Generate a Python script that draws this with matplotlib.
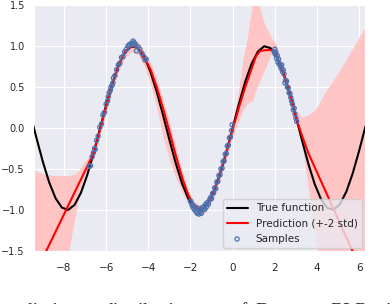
import matplotlib
matplotlib.use("Agg")
import matplotlib.pyplot as plt
import seaborn as sns

# true function
true_x = [-9.6, -9.3, -9.0, -8.7, -8.4, -8.1, -7.8, -7.5, -7.2, -6.9, -6.6, -6.3,
          -6.0, -5.7, -5.4, -5.1, -4.8, -4.5, -4.2, -3.9, -3.6, -3.3, -3.0, -2.7,
          -2.4, -2.1, -1.8, -1.5, -1.2, -0.9, -0.6, -0.3, 0.0, 0.3, 0.6, 0.9,
          1.2, 1.5, 1.8, 2.1, 2.4, 2.7, 3.0, 3.3, 3.6, 3.9, 4.2, 4.5,
          4.8, 5.1, 5.4, 5.7, 6.0, 6.3]
true_y = [0.174, -0.124, -0.412, -0.663, -0.855, -0.970, -0.999, -0.938, -0.794, -0.578, -0.312, -0.017,
          0.279, 0.551, 0.773, 0.926, 0.996, 0.978, 0.872, 0.688, 0.443, 0.158, -0.141, -0.427,
          -0.675, -0.863, -0.974, -0.997, -0.932, -0.783, -0.565, -0.296, 0.0, 0.296, 0.565, 0.783,
          0.932, 0.997, 0.974, 0.863, 0.675, 0.427, 0.141, -0.158, -0.443, -0.688, -0.872, -0.978,
          -0.996, -0.926, -0.773, -0.551, -0.279, 0.017]

# prediction mean (red)
pred_x = [-9.5, -6.9, -6.6, -6.3, -6.0, -5.7, -5.4, -5.1, -4.8, -4.5, -4.2, -3.9,
          -3.6, -3.3, -3.0, -2.7, -2.4, -2.1, -1.8, -1.5, -1.2, -0.9, -0.6, -0.3,
          0.0, 0.3, 0.6, 0.9, 1.1, 1.3, 1.6, 1.9, 2.1, 2.4, 2.7, 3.0, 3.3, 3.6, 6.3]
pred_y = [-1.85, -0.47, -0.31, -0.03, 0.26, 0.54, 0.77, 0.93, 1.0, 0.98, 0.86, 0.72,
          0.5, 0.24, -0.04, -0.33, -0.6, -0.82, -0.96, -1.0, -0.93, -0.78, -0.56, -0.3,
          -0.02, 0.25, 0.5, 0.72, 0.87, 0.94, 0.95, 0.95, 0.88, 0.68, 0.43, 0.13, -0.1, -0.31, -1.85]

# +-2 std band
band_x = [-9.5, -9.0, -8.5, -8.0, -7.8, -7.6, -7.4, -7.2, -7.0, -6.9, -6.6, -6.3,
          -6.0, -5.7, -5.4, -5.1, -4.8, -4.5, -4.2, -3.9, -3.6, -3.3, -3.0, -2.7,
          -2.4, -2.1, -1.8, -1.5, -1.2, -0.9, -0.6, -0.3, 0.0, 0.25, 0.5, 0.7,
          0.95, 1.1, 1.25, 1.5, 1.85, 2.1, 2.4, 2.7, 3.0, 3.3, 3.6, 3.9,
          4.05, 4.4, 5.2, 6.3]
band_hi = [-0.50, -0.56, -0.58, -0.58, -0.58, -0.57, -0.55, -0.48, -0.40, -0.38, -0.22, 0.04,
           0.33, 0.60, 0.83, 1.00, 1.08, 1.06, 0.93, 0.80, 0.60, 0.35, 0.08, -0.22,
           -0.52, -0.76, -0.90, -0.95, -0.88, -0.72, -0.50, -0.24, 0.04, 0.40, 0.85, 1.10,
           1.55, 1.60, 1.50, 1.28, 1.10, 1.00, 0.74, 0.50, 0.22, 0.13, 0.16, 0.22,
           0.28, 0.44, 0.75, 1.24]
band_lo = [-1.70, -1.70, -1.70, -1.70, -1.55, -1.25, -0.98, -0.72, -0.55, -0.52, -0.38, -0.10,
           0.19, 0.47, 0.70, 0.86, 0.93, 0.90, 0.76, 0.55, 0.25, -0.10, -0.38, -0.60,
           -0.78, -0.93, -1.04, -1.07, -1.00, -0.85, -0.63, -0.37, -0.10, 0.06, 0.22, 0.30,
           0.34, 0.45, 0.55, 0.70, 0.91, 0.84, 0.62, 0.36, 0.06, -0.20, -0.75, -1.30,
           -1.55, -1.70, -1.70, -1.70]

# training samples
samp_x = [-6.8, -6.74, -6.66, -6.6, -6.55, -6.52, -6.45, -6.38, -6.3, -6.22, -6.15, -6.08,
          -6.0, -5.93, -5.9, -5.86, -5.8, -5.77, -5.72, -5.68, -5.65, -5.58, -5.5, -5.42,
          -5.35, -5.27, -5.2, -5.12, -5.04, -4.96, -4.92, -4.88, -4.8, -4.76, -4.72, -4.68,
          -4.64, -4.6, -4.56, -4.48, -4.4, -4.3, -4.22, -4.15, -4.1,
          -2.0, -1.96, -1.92, -1.88, -1.84, -1.8, -1.76, -1.72, -1.68, -1.64, -1.6, -1.56,
          -1.52, -1.48, -1.44, -1.4, -1.36, -1.32, -1.28, -1.24, -1.2, -1.15, -1.1, -1.05,
          -1.0, -0.95, -0.9, -0.85, -0.8, -0.75, -0.7, -0.65, -0.6, -0.55, -0.5, -0.45,
          -0.4, -0.35, -0.3, -0.25, -0.2, -0.15, -0.1, -0.05, -0.02,
          1.98, 2.0, 2.02, 2.05, 2.08, 2.12, 2.15, 2.18, 2.22, 2.26, 2.3, 2.33,
          2.36, 2.4, 2.44, 2.48, 2.52, 2.56, 2.6, 2.64, 2.68, 2.72, 2.76, 2.8,
          2.84, 2.88, 2.92, 2.96, 3.0, 3.04]
samp_y = [-0.47, -0.46, -0.35, -0.30, -0.25, -0.26, -0.15, -0.10, 0.01, 0.05, 0.16, 0.19,
          0.29, 0.33, 0.38, 0.43, 0.46, 0.50, 0.52, 0.55, 0.61, 0.64, 0.71, 0.77,
          0.79, 0.86, 0.87, 0.93, 0.96, 1.00, 1.01, 1.02, 1.03, 1.02, 1.06, 1.04,
          1.03, 1.01, 0.94, 0.99, 0.96, 0.91, 0.87, 0.83, 0.84,
          -0.89, -0.91, -0.94, -0.97, -0.95, -1.00, -0.97, -1.02, -1.04, -0.98, -1.05, -1.03,
          -1.00, -1.04, -0.97, -1.00, -0.96, -0.99, -0.93, -0.96, -0.91, -0.93, -0.88, -0.85,
          -0.86, -0.80, -0.79, -0.73, -0.74, -0.66, -0.65, -0.58, -0.57, -0.50, -0.49, -0.41,
          -0.40, -0.32, -0.31, -0.22, -0.21, -0.12, -0.11, -0.03, 0.04,
          0.93, 0.96, 0.90, 0.92, 0.85, 0.88, 0.80, 0.84, 0.78, 0.76, 0.73, 0.77,
          0.69, 0.71, 0.66, 0.55, 0.58, 0.57, 0.50, 0.49, 0.43, 0.42, 0.37, 0.33,
          0.29, 0.22, 0.24, 0.17, 0.12, 0.08]

x_lim = (-9.42, 6.28)
y_lim = (-1.5, 1.5)
x_ticks = [-8, -6, -4, -2, 0, 2, 4, 6]
y_ticks = [-1.5, -1.0, -0.5, 0.0, 0.5, 1.0, 1.5]

# caption words under the figure (cut off by the page)
caption_words = ["predictive", "distribution", "of", "Deep", "BLR", "in"]
caption_px = [-1, 103, 231, 255, 330, 386]

sns.set_style("darkgrid")
plt.rcParams["font.family"] = ["DejaVu Sans"]

fig = plt.figure(figsize=(3.92, 3.04), dpi=100)
ax = fig.add_axes([34 / 392, 53 / 304, 331 / 392, 246 / 304])

ax.fill_between(band_x, band_lo, band_hi, color="#ffc4c4", lw=0, zorder=1)
ax.plot(true_x, true_y, color="black", lw=1.5, label="True function", zorder=3)
ax.plot(pred_x, pred_y, color="red", lw=1.5, label="Prediction (+-2 std)", zorder=4)
ax.scatter(samp_x, samp_y, s=9, facecolors="none", edgecolors="#4c72b0",
           linewidths=0.9, label="Samples", zorder=5)

ax.set_xlim(*x_lim)
ax.set_ylim(*y_lim)
ax.set_xticks(x_ticks)
ax.set_yticks(y_ticks)
ax.tick_params(axis="x", length=0, labelsize=7.5, colors="0.15", pad=8.5)
ax.tick_params(axis="y", length=0, labelsize=7, colors="0.15", pad=6.5)

leg = ax.legend(loc="lower right", fontsize=7.5, borderaxespad=0.3)

for w, px in zip(caption_words, caption_px):
    fig.text(px / 392, -0.04, w, family="Liberation Serif", fontsize=14,
             ha="left", va="baseline")

fig.savefig("out.png", dpi=100)
